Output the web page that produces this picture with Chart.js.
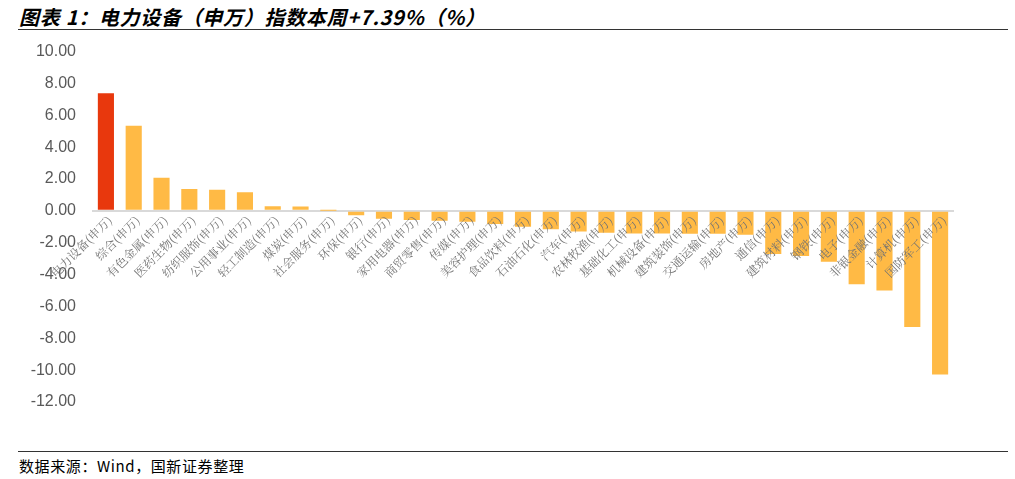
<!DOCTYPE html>
<html>
<head>
<meta charset="utf-8">
<script src="https://cdn.jsdelivr.net/npm/chart.js@4"></script>
<style>
  html, body { margin: 0; padding: 0; background: #fff; }
  body { width: 1015px; height: 479px; position: relative; overflow: hidden; }
  .title {
    position: absolute; left: 19px; top: 2px;
    font: italic bold 20px "Noto Sans CJK SC", "Liberation Sans", sans-serif;
    letter-spacing: 0.7px;
    color: #000; white-space: nowrap;
  }
  .rule { position: absolute; left: 18px; width: 990px; height: 1px; background: #333; }
  .source {
    position: absolute; left: 19px; top: 455px;
    font: 15px "Noto Sans CJK SC", "Liberation Sans", sans-serif; color: #000;
    letter-spacing: 0.6px;
  }
  #wrap { position: absolute; left: 0; top: 26px; width: 1015px; height: 424px; }
</style>
</head>
<body>
<div class="title">图表 1：电力设备（申万）指数本周+7.39%（%）</div>
<div class="rule" style="top:29px"></div>
<div id="wrap"><canvas id="chart"></canvas></div>
<div class="rule" style="top:451px"></div>
<div class="source">数据来源：Wind，国新证券整理</div>
<script>
// 申万一级行业 本周涨跌幅
const industries = [
  '电力设备', '综合', '有色金属', '医药生物', '纺织服饰', '公用事业', '轻工制造', '煤炭',
  '社会服务', '环保', '银行', '家用电器', '商贸零售', '传媒', '美容护理', '食品饮料',
  '石油石化', '汽车', '农林牧渔', '基础化工', '机械设备', '建筑装饰', '交通运输', '房地产',
  '通信', '建筑材料', '钢铁', '电子', '非银金融', '计算机', '国防军工'
];
const labels = industries.map(n => n + '(申万)');
const weeklyChange = [
  7.39, 5.35, 2.08, 1.38, 1.33, 1.17, 0.29, 0.27,
  0.01, -0.28, -0.50, -0.58, -0.62, -0.69, -0.83, -1.00,
  -1.15, -1.29, -1.37, -1.42, -1.42, -1.43, -1.43, -1.50,
  -2.70, -2.83, -3.19, -4.60, -5.00, -7.29, -10.27
];
const yTicks = [10, 8, 6, 4, 2, 0, -2, -4, -6, -8, -10, -12];

const highlight = '#E8380D';
const normal = '#FFBA45';

// category labels sit on the zero line, rotated 45 degrees
const zeroLabels = {
  id: 'zeroLabels',
  afterDatasetsDraw(chart) {
    const ctx = chart.ctx;
    const xs = chart.scales.x;
    const y0 = chart.scales.y.getPixelForValue(0);
    ctx.save();
    ctx.font = '12px "Noto Serif CJK SC", "Noto Sans CJK SC", serif';
    ctx.fillStyle = '#737373';
    ctx.textAlign = 'right';
    ctx.textBaseline = 'middle';
    labels.forEach((t, i) => {
      const x = xs.getPixelForValue(i);
      ctx.save();
      ctx.translate(x + 4, y0 + 7);
      ctx.rotate(-Math.PI / 4);
      ctx.fillText(t, 0, 0);
      ctx.restore();
    });
    ctx.restore();
  }
};

new Chart(document.getElementById('chart'), {
  type: 'bar',
  data: {
    labels: labels,
    datasets: [{
      data: weeklyChange,
      backgroundColor: weeklyChange.map((v, i) => i === 0 ? highlight : normal),
      borderWidth: 0,
      barPercentage: 0.58,
      categoryPercentage: 1
    }]
  },
  options: {
    responsive: true,
    maintainAspectRatio: false,
    animation: false,
    layout: { padding: { top: 16, bottom: 48, right: 61, left: 0 } },
    plugins: { legend: { display: false }, tooltip: { enabled: false } },
    scales: {
      x: { display: false },
      y: {
        min: -12,
        max: 10,
        afterFit: s => { s.width = 92; },
        afterBuildTicks: s => { s.ticks = yTicks.map(v => ({ value: v })); },
        border: { display: false },
        grid: {
          drawTicks: false,
          lineWidth: 2,
          color: c => c.tick && c.tick.value === 0 ? '#d9d9d9' : 'rgba(0,0,0,0)'
        },
        ticks: {
          padding: 16,
          color: '#595959',
          font: { family: '"Liberation Sans", Arial, sans-serif', size: 16 },
          callback: v => Number(v).toFixed(2)
        }
      }
    }
  },
  plugins: [zeroLabels]
});
</script>
</body>
</html>
